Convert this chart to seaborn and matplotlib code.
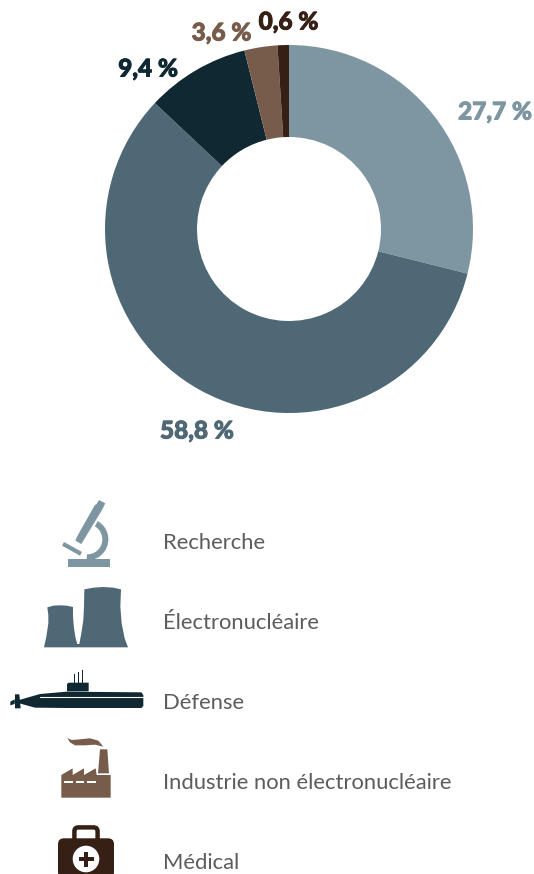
import numpy as np
import seaborn as sns
import matplotlib.pyplot as plt
import matplotlib.patheffects as pe
from matplotlib.patches import Polygon, Rectangle, Circle, FancyBboxPatch

# donnees
categories = ['Recherche', 'Électronucléaire', 'Défense', 'Industrie non électronucléaire', 'Médical']
parts = [28.9, 58.1, 9.1, 2.9, 1.0]  # parts
etiquettes = ['27,7 %', '58,8 %', '9,4 %', '3,6 %', '0,6 %']
couleurs = ['#7e96a2', '#4e6875', '#0f2832', '#775c4b', '#362015']

W, H = 534, 874
sns.set_theme(style='white')
palette = sns.color_palette(couleurs)

fig = plt.figure(figsize=(W / 100, H / 100), dpi=100)

# -----------------------------------------------------------------------------
# anneau
# -----------------------------------------------------------------------------
cx, cy, r = 289, 229, 184
ax_pie = fig.add_axes([(cx - r) / W, 1 - (cy + r) / H, 2 * r / W, 2 * r / H])
ax_pie.pie(parts, colors=palette, startangle=90, counterclock=False, radius=1,
           wedgeprops={'width': 0.5, 'linewidth': 0})
ax_pie.set_xlim(-1, 1)
ax_pie.set_ylim(-1, 1)
ax_pie.axis('off')

# -----------------------------------------------------------------------------
# calque en pixels : textes et icones
# -----------------------------------------------------------------------------
ax = fig.add_axes([0, 0, 1, 1], facecolor='none')
ax.set_xlim(0, W)
ax.set_ylim(H, 0)
ax.axis('off')

pos_etiquettes = [(495, 112), (197, 431), (148, 69), (221.5, 33), (288.5, 22)]
for txt, (x, y), c in zip(etiquettes, pos_etiquettes, palette):
    ax.text(x, y, txt, color=c, fontsize=17.5, fontweight='black', family='Lato',
            ha='center', va='center',
            path_effects=[pe.withStroke(linewidth=0.7, foreground=c)])

pos_legende = [543, 623, 703, 783, 863]
for nom, y in zip(categories, pos_legende):
    ax.text(163, y, nom, color='#5c5c5c', fontsize=15.85, family='Lato', ha='left', va='center')


def z1(pts):
    return [(x / 3, 480 + y / 3) for x, y in pts]


def z2(pts):
    return [(x / 3, 660 + y / 3) for x, y in pts]


def poly(pts, c, z=2):
    ax.add_patch(Polygon(pts, closed=True, facecolor=c, edgecolor='none', zorder=z))


# microscope
c = palette[0]
poly(z1([(204, 237), (330, 237), (330, 262), (204, 262)]), c)
poly(z1([(297, 60), (316, 70), (309, 84), (306, 90), (250, 182), (244, 192), (226, 182), (231, 170), (284, 76), (290, 72)]), c)
poly(z1([(186, 197), (192, 186), (246, 216), (240, 227)]), c)
t = np.linspace(-1.05, 1.6, 40)
ext = [(262 + 63 * np.cos(a), 178 + 63 * np.sin(a)) for a in t]
inn = [(262 + 45 * np.cos(a), 178 + 45 * np.sin(a)) for a in t[::-1]]
poly(z1(ext + inn), c)

# tours de refroidissement
c = palette[1]
poly(z1([(142, 382), (160, 377), (180, 376), (200, 377), (219, 381), (219, 410), (222, 445), (227, 475),
         (232, 492), (238, 492), (244, 460), (250, 420), (252, 380), (253, 328), (280, 323), (310, 321),
         (340, 323), (363, 328), (361, 380), (365, 430), (374, 475), (384, 502), (132, 502), (139, 470),
         (145, 430), (145, 405)]), c)

# sous-marin
c = palette[2]
verts = z2([(430, 105), (424, 97), (200, 95), (120, 102), (40, 125), (105, 143), (200, 144), (424, 144), (430, 138)])
poly(verts, c)
poly(z2([(45, 103), (58, 103), (62, 145), (45, 145)]), c)
poly(z2([(31, 125), (44, 118), (44, 132), (31, 136)]), c)
poly(z2([(201, 72), (206, 68), (266, 68), (266, 94), (201, 94)]), c)
for x_m, y_m in [(222, 42), (235, 35), (248, 30)]:
    poly(z2([(x_m - 1.5, y_m), (x_m + 1.5, y_m), (x_m + 1.5, 68), (x_m - 1.5, 68)]), c)
ax.plot([40, 143], [696.7, 696.7], color='white', lw=0.8, zorder=3)

# usine
c = palette[3]
poly(z2([(184, 345), (218, 325), (218, 345), (252, 325), (252, 345), (287, 325), (290, 345), (332, 345),
         (332, 413), (184, 413)]), c)
poly(z2([(300, 268), (322, 268), (327, 340), (294, 340)]), c)
for x0 in [193, 227, 262]:
    poly(z2([(x0, 362), (x0 + 25, 362), (x0 + 25, 369), (x0, 369)]), 'white', 3)
poly(z2([(202, 234), (215, 240), (240, 238), (270, 235), (295, 242), (310, 260), (285, 254), (255, 256), (225, 256), (210, 247)]), c)

# trousse medicale
c = palette[4]
ax.add_patch(FancyBboxPatch((74.4, 827.4), 23.2, 16, boxstyle='round,pad=0,rounding_size=4',
                            facecolor='none', edgecolor=c, lw=3.2, zorder=2))
ax.add_patch(FancyBboxPatch((58, 838.3), 56, 40, boxstyle='round,pad=0,rounding_size=6',
                            facecolor=c, edgecolor='none', zorder=3))
ax.add_patch(Circle((86, 859), 13.3, facecolor='white', edgecolor='none', zorder=4))
ax.add_patch(Rectangle((84, 851.5), 4, 15, facecolor=c, edgecolor='none', zorder=5))
ax.add_patch(Rectangle((78.5, 857), 15, 4, facecolor=c, edgecolor='none', zorder=5))

fig.savefig('out.png', dpi=100, facecolor='white')
